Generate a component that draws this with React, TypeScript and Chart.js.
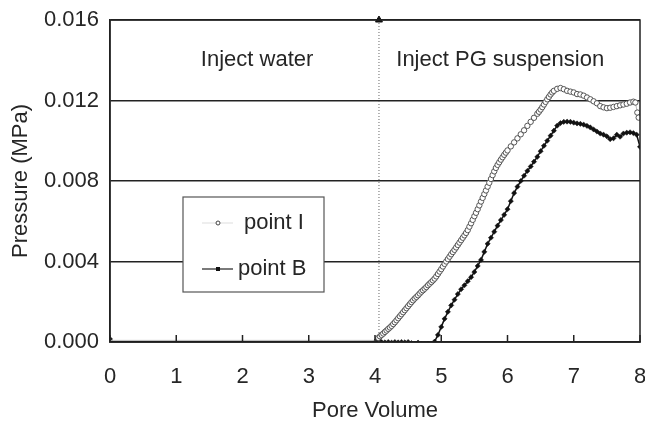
import { useEffect, useRef } from 'react';
import { Chart, registerables } from 'chart.js';

Chart.register(...registerables);

const FONT = '"Liberation Sans", Arial, sans-serif';
const TEXT = '#262626';

const xTicks = [0, 1, 2, 3, 4, 5, 6, 7, 8];
const yTicks = [0, 0.004, 0.008, 0.012, 0.016];
const seriesLabels = ['point I', 'point B'];

const pointIX = [0, 4.0,
  4.05, 4.075, 4.1, 4.125, 4.15, 4.175, 4.2, 4.225, 4.25, 4.275, 4.3, 4.325, 4.35, 4.375, 4.4, 4.425, 4.45, 4.475,
  4.5, 4.525, 4.55, 4.575, 4.6, 4.625, 4.65, 4.675, 4.7, 4.725, 4.75, 4.775, 4.8, 4.825, 4.85, 4.875, 4.9, 4.925, 4.95, 4.975,
  5.0, 5.025, 5.05, 5.075, 5.1, 5.125, 5.15, 5.175, 5.2, 5.225, 5.25, 5.275, 5.3, 5.325, 5.35, 5.375, 5.4, 5.425, 5.45, 5.475,
  5.5, 5.525, 5.55, 5.575, 5.6, 5.625, 5.65, 5.675, 5.7, 5.725, 5.75, 5.775, 5.8, 5.825, 5.85, 5.875, 5.9, 5.925, 5.95, 5.975,
  6.0, 6.05, 6.1, 6.15, 6.2, 6.25, 6.3, 6.35, 6.4, 6.45, 6.475, 6.5, 6.525, 6.55, 6.575, 6.6, 6.625, 6.65, 6.675, 6.7,
  6.75, 6.8, 6.85, 6.9, 6.95, 7.0, 7.05, 7.1, 7.15, 7.2, 7.25, 7.3, 7.35, 7.4, 7.45, 7.5, 7.55, 7.6, 7.65, 7.7,
  7.75, 7.8, 7.85, 7.9, 7.93, 7.96, 7.98];
const pointIY = [0.00008, 0.00008,
  0.0002, 0.00028, 0.00035, 0.00042, 0.0005, 0.00057, 0.00065, 0.00072, 0.0008, 0.00089, 0.00098, 0.00108, 0.00118, 0.00128, 0.00138, 0.00148, 0.00158, 0.00168,
  0.00178, 0.00188, 0.00198, 0.00207, 0.00216, 0.00224, 0.00232, 0.00241, 0.0025, 0.00257, 0.00265, 0.00273, 0.00282, 0.0029, 0.00298, 0.00306, 0.00315, 0.00326, 0.00338, 0.0035,
  0.00362, 0.00375, 0.00388, 0.004, 0.00412, 0.00424, 0.00436, 0.00447, 0.00458, 0.0047, 0.00482, 0.00494, 0.00506, 0.00518, 0.0053, 0.00542, 0.00556, 0.00573, 0.0059, 0.00607,
  0.00625, 0.00642, 0.0066, 0.00679, 0.00698, 0.00716, 0.00735, 0.00753, 0.00772, 0.00791, 0.0081, 0.00829, 0.00848, 0.00865, 0.0088, 0.00893, 0.00906, 0.00918, 0.0093, 0.00941,
  0.00952, 0.00972, 0.00992, 0.01012, 0.01032, 0.01052, 0.01074, 0.01094, 0.01114, 0.01134, 0.01144, 0.01155, 0.01167, 0.0118, 0.01193, 0.01206, 0.01218, 0.0123, 0.0124, 0.01248,
  0.01258, 0.01262, 0.01256, 0.01248, 0.01244, 0.0124, 0.01232, 0.0123, 0.01224, 0.01215, 0.01206, 0.01196, 0.01186, 0.01172, 0.01166, 0.01162, 0.01164, 0.01168, 0.01172, 0.01176,
  0.0118, 0.01184, 0.0119, 0.01194, 0.0119, 0.0114, 0.01115];

const pointBX = [0, 0.05, 1, 2, 2.85, 3, 4.0, 4.05, 4.1, 4.15, 4.2, 4.25, 4.3, 4.35, 4.4, 4.45, 4.5, 4.55, 4.6, 4.65, 4.7, 4.75, 4.8, 4.85, 4.9, 4.95,
  5.0, 5.05, 5.1, 5.15, 5.2, 5.25, 5.3, 5.35, 5.4, 5.45, 5.5, 5.55, 5.6, 5.65, 5.7, 5.75, 5.8, 5.85, 5.9, 5.95,
  6.0, 6.05, 6.1, 6.15, 6.2, 6.25, 6.3, 6.35, 6.4, 6.45, 6.5, 6.55, 6.6, 6.65, 6.7, 6.75, 6.8, 6.85, 6.9, 6.95,
  7.0, 7.05, 7.1, 7.15, 7.2, 7.25, 7.3, 7.35, 7.4, 7.45, 7.5, 7.55, 7.6, 7.65, 7.7, 7.75, 7.8, 7.85, 7.9, 7.95, 8.0];
const pointBY = [0.00015, 0, 0, 0, -0.00015, 0, 0.00002, 0.0001, 0, -0.00002, 0, -0.00003, 0, -0.00002, 0, -0.00002, 0, -0.00005, -0.00008, -0.00003, -0.0001, -0.00012, -0.00008, -0.0001, 0.00002, 0.00035,
  0.00075, 0.00115, 0.0015, 0.00182, 0.0021, 0.00238, 0.00262, 0.00282, 0.00302, 0.00322, 0.00348, 0.00378, 0.00408, 0.00448, 0.00488, 0.00518, 0.00548, 0.00578, 0.00606, 0.00632,
  0.0066, 0.007, 0.0074, 0.00772, 0.008, 0.00826, 0.0085, 0.00872, 0.00896, 0.0092, 0.00948, 0.00975, 0.01, 0.01025, 0.0105, 0.01075, 0.01088, 0.01094, 0.01095, 0.01094,
  0.0109, 0.01086, 0.01084, 0.0108, 0.01074, 0.01066, 0.01056, 0.01046, 0.01036, 0.0103, 0.01022, 0.01008, 0.01012, 0.0103, 0.0102, 0.01036, 0.0104, 0.01042, 0.01038, 0.0103, 0.0097];

const dividerX = [4.06, 4.06];
const dividerY = [0, 0.016];

const annotationTexts = ['Inject water', 'Inject PG suspension'];
const annotationX = [2.22, 5.89];
const annotationY = [0.014, 0.014];

const toPoints = (xs: number[], ys: number[]) => xs.map((x, i) => ({ x, y: ys[i] }));

const decorPlugin = {
  id: 'decor',
  afterDraw(chart: any) {
    const { ctx, chartArea, scales } = chart;
    const { left, right, top, bottom } = chartArea;
    const x = scales.x;
    const y = scales.y;
    ctx.save();
    ctx.strokeStyle = '#222';
    ctx.lineWidth = 1.5;
    ctx.strokeRect(left, top, right - left, bottom - top);
    x.ticks.forEach((t: any) => {
      const px = x.getPixelForValue(t.value);
      ctx.beginPath();
      ctx.moveTo(px, bottom);
      ctx.lineTo(px, bottom - 7);
      ctx.stroke();
    });
    ctx.fillStyle = TEXT;
    ctx.font = `22px ${FONT}`;
    ctx.textAlign = 'center';
    ctx.textBaseline = 'middle';
    annotationTexts.forEach((txt, i) => {
      ctx.fillText(txt, x.getPixelForValue(annotationX[i]), y.getPixelForValue(annotationY[i]));
    });
    // legend box
    const bx = left + 73;
    const by = top + 177;
    const bw = 141;
    const bh = 95;
    ctx.fillStyle = '#fff';
    ctx.fillRect(bx, by, bw, bh);
    ctx.strokeStyle = '#555';
    ctx.lineWidth = 1.2;
    ctx.strokeRect(bx, by, bw, bh);
    const r1 = by + 26;
    ctx.strokeStyle = '#ddd';
    ctx.lineWidth = 1;
    ctx.beginPath();
    ctx.moveTo(bx + 19, r1);
    ctx.lineTo(bx + 50, r1);
    ctx.stroke();
    ctx.beginPath();
    ctx.arc(bx + 35, r1, 2, 0, Math.PI * 2);
    ctx.fillStyle = '#fff';
    ctx.fill();
    ctx.strokeStyle = '#444';
    ctx.stroke();
    const r2 = by + 72;
    ctx.strokeStyle = '#222';
    ctx.lineWidth = 1.2;
    ctx.beginPath();
    ctx.moveTo(bx + 19, r2);
    ctx.lineTo(bx + 50, r2);
    ctx.stroke();
    ctx.fillStyle = '#111';
    ctx.fillRect(bx + 33, r2 - 2, 4, 4);
    ctx.fillStyle = TEXT;
    ctx.font = `22px ${FONT}`;
    ctx.textAlign = 'left';
    ctx.textBaseline = 'middle';
    ctx.fillText(seriesLabels[0], bx + 61, r1);
    ctx.fillText(seriesLabels[1], bx + 55, r2);
    ctx.restore();
  },
};

export default function App() {
  const ref = useRef<HTMLCanvasElement>(null);
  useEffect(() => {
    if (!ref.current) return;
    const chart = new Chart(ref.current, {
      type: 'line',
      data: {
        datasets: [
          {
            label: 'divider',
            data: toPoints(dividerX, dividerY),
            borderColor: '#666',
            borderWidth: 1,
            borderDash: [1, 2],
            pointStyle: 'triangle',
            pointRadius: [0, 4],
            pointBackgroundColor: '#111',
            pointBorderColor: '#111',
            clip: false as any,
          },
          {
            label: seriesLabels[0],
            data: toPoints(pointIX, pointIY),
            borderColor: '#bbb',
            borderWidth: 1,
            pointStyle: 'circle',
            pointRadius: (c: any) => (c.raw && c.raw.x < 4.05 ? 0 : 2.7),
            pointBackgroundColor: '#fff',
            pointBorderColor: '#444',
            pointBorderWidth: 0.9,
          },
          {
            label: seriesLabels[1],
            data: toPoints(pointBX, pointBY),
            borderColor: '#111',
            borderWidth: 1.5,
            pointStyle: 'rectRot',
            pointRadius: (c: any) => (c.raw && (c.raw.x === 0.05 || c.raw.x === 1 || c.raw.x === 2 || c.raw.x === 3) ? 0 : 2.6),
            pointBackgroundColor: '#111',
            pointBorderColor: '#111',
            pointBorderWidth: 0.5,
          },
        ],
      },
      options: {
        responsive: false,
        animation: false,
        parsing: false as any,
        layout: { padding: { left: 8, right: 5, top: 20, bottom: 0 } },
        plugins: { legend: { display: false }, tooltip: { enabled: false } },
        scales: {
          x: {
            type: 'linear',
            min: 0,
            max: 8,
            afterBuildTicks: (s: any) => {
              s.ticks = xTicks.map((v) => ({ value: v }));
            },
            afterFit: (s: any) => {
              s.height = 79;
              s.paddingLeft = 0;
              s.paddingRight = 0;
            },
            grid: { display: true, drawOnChartArea: false, drawTicks: false },
            border: { display: true, color: '#222', width: 1.5 },
            ticks: { color: TEXT, font: { family: FONT, size: 22 }, padding: 22, maxRotation: 0, autoSkip: false },
            title: { display: true, text: 'Pore Volume', color: TEXT, font: { family: FONT, size: 22 }, padding: { top: 0, bottom: -3 } },
          },
          y: {
            type: 'linear',
            min: 0,
            max: 0.016,
            afterBuildTicks: (s: any) => {
              s.ticks = yTicks.map((v) => ({ value: v }));
            },
            afterFit: (s: any) => {
              s.width = 102;
              s.paddingTop = 0;
              s.paddingBottom = 0;
            },
            grid: { color: '#222', lineWidth: 1.5, drawTicks: false },
            border: { display: true, color: '#222', width: 1.5 },
            ticks: {
              color: TEXT,
              font: { family: FONT, size: 22 },
              padding: 11,
              callback: (v: any) => Number(v).toFixed(3),
            },
            title: { display: true, text: 'Pressure (MPa)', color: TEXT, font: { family: FONT, size: 22 }, padding: { top: 0, bottom: 0 } },
          },
        },
      },
      plugins: [decorPlugin],
    });
    return () => chart.destroy();
  }, []);
  return (
    <div style={{ position: 'fixed', left: 0, top: 0, width: 645, height: 421, background: '#fff' }}>
      <canvas ref={ref} width={645} height={421} style={{ display: 'block' }} />
    </div>
  );
}
